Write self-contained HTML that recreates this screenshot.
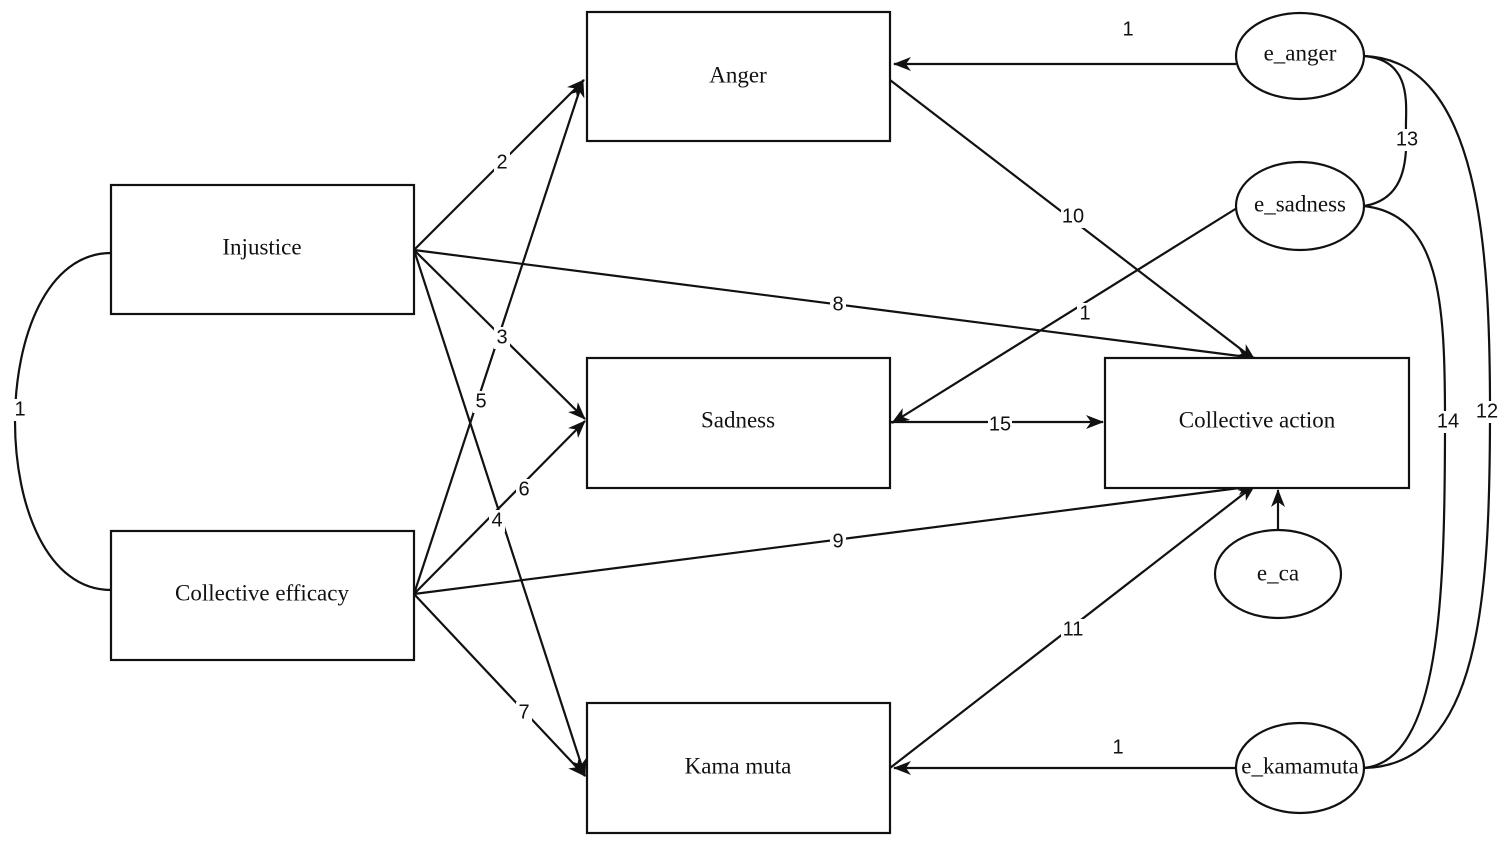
<!DOCTYPE html>
<html><head><style>
body{margin:0;background:#fff;}
svg{display:block;}
.b{fill:#fff;stroke:#111;stroke-width:2.2;}
.l{stroke:#111;stroke-width:2.2;fill:none;}
.t{font-family:"Liberation Serif",serif;font-size:23px;fill:#111;text-anchor:middle;dominant-baseline:middle;}
.n{font-family:"Liberation Sans",sans-serif;font-size:20px;fill:#111;text-anchor:middle;dominant-baseline:middle;}
.bg{fill:#fff;}
</style></head><body>
<svg width="1512" height="847" viewBox="0 0 1512 847">
<defs>
<marker id="a" viewBox="0 0 18 14" refX="17" refY="7" markerWidth="18" markerHeight="14" markerUnits="userSpaceOnUse" orient="auto">
<path d="M0,0 L18,7 L0,14 L5,7 Z" fill="#111"/>
</marker>
</defs>
<path class="l" d="M111,253 C-17,253 -17,590 111,590"/>
<path class="l" d="M1364,56 C1415,60 1405,110 1406,130 C1408,170 1400,200 1364,206"/>
<path class="l" d="M1364,206 C1440,215 1445,300 1445,420 C1445,600 1440,760 1364,768"/>
<path class="l" d="M1364,56 C1480,60 1490,250 1490,410 C1490,600 1480,765 1364,768"/>
<g class="l">
<line x1="414" y1="250" x2="584" y2="80" marker-end="url(#a)"/>
<line x1="414" y1="250" x2="585" y2="419" marker-end="url(#a)"/>
<line x1="414" y1="250" x2="585" y2="776" marker-end="url(#a)"/>
<line x1="414" y1="250" x2="1255" y2="358" marker-end="url(#a)"/>
<line x1="414" y1="594" x2="583" y2="80" marker-end="url(#a)"/>
<line x1="414" y1="594" x2="585" y2="421" marker-end="url(#a)"/>
<line x1="414" y1="594" x2="1255" y2="486" marker-end="url(#a)"/>
<line x1="414" y1="594" x2="585" y2="776" marker-end="url(#a)"/>
<line x1="890" y1="80" x2="1255" y2="360" marker-end="url(#a)"/>
<line x1="1237" y1="208" x2="892" y2="423" marker-end="url(#a)"/>
<line x1="890" y1="422" x2="1103" y2="422" marker-end="url(#a)"/>
<line x1="890" y1="768" x2="1255" y2="485" marker-end="url(#a)"/>
<line x1="1278" y1="530" x2="1278" y2="490" marker-end="url(#a)"/>
<line x1="1236" y1="64" x2="894" y2="64" marker-end="url(#a)"/>
<line x1="1236" y1="768" x2="894" y2="768" marker-end="url(#a)"/>
</g>
<rect class="b" x="587" y="12" width="303" height="129"/>
<rect class="b" x="111" y="185" width="303" height="129"/>
<rect class="b" x="587" y="358" width="303" height="130"/>
<rect class="b" x="1105" y="358" width="304" height="130"/>
<rect class="b" x="111" y="531" width="303" height="129"/>
<rect class="b" x="587" y="703" width="303" height="130"/>
<text class="t" x="738" y="77">Anger</text>
<text class="t" x="262" y="249">Injustice</text>
<text class="t" x="738" y="422">Sadness</text>
<text class="t" x="1257" y="422">Collective action</text>
<text class="t" x="262" y="595">Collective efficacy</text>
<text class="t" x="738" y="768">Kama muta</text>
<ellipse class="b" cx="1300" cy="56" rx="64" ry="43"/>
<ellipse class="b" cx="1300" cy="206" rx="64" ry="44"/>
<ellipse class="b" cx="1278" cy="574" rx="63" ry="44"/>
<ellipse class="b" cx="1300" cy="768" rx="64" ry="45"/>
<text class="t" x="1300" y="55">e_anger</text>
<text class="t" x="1300" y="206">e_sadness</text>
<text class="t" x="1278" y="575">e_ca</text>
<text class="t" x="1300" y="768">e_kamamuta</text>
<g>
<rect class="bg" x="494" y="152" width="16" height="22"/><text class="n" x="502" y="163">2</text>
<rect class="bg" x="494" y="327" width="16" height="22"/><text class="n" x="502" y="338">3</text>
<rect class="bg" x="489" y="510" width="16" height="22"/><text class="n" x="497" y="521">4</text>
<rect class="bg" x="473" y="391" width="16" height="22"/><text class="n" x="481" y="402">5</text>
<rect class="bg" x="516" y="479" width="16" height="22"/><text class="n" x="524" y="490">6</text>
<rect class="bg" x="516" y="702" width="16" height="22"/><text class="n" x="524" y="713">7</text>
<rect class="bg" x="830" y="294" width="16" height="22"/><text class="n" x="838" y="305">8</text>
<rect class="bg" x="830" y="531" width="16" height="22"/><text class="n" x="838" y="542">9</text>
<rect class="bg" x="1061" y="206" width="24" height="22"/><text class="n" x="1073" y="217">10</text>
<rect class="bg" x="1061" y="619" width="24" height="22"/><text class="n" x="1073" y="630">11</text>
<rect class="bg" x="988" y="414" width="24" height="22"/><text class="n" x="1000" y="425">15</text>
<rect class="bg" x="1077" y="303" width="16" height="22"/><text class="n" x="1085" y="314">1</text>
<text class="n" x="1128" y="30">1</text>
<text class="n" x="1118" y="748">1</text>
<rect class="bg" x="12" y="399" width="16" height="22"/><text class="n" x="20" y="410">1</text>
<rect class="bg" x="1395" y="129" width="24" height="22"/><text class="n" x="1407" y="140">13</text>
<rect class="bg" x="1436" y="411" width="24" height="22"/><text class="n" x="1448" y="422">14</text>
<rect class="bg" x="1475" y="401" width="24" height="22"/><text class="n" x="1487" y="412">12</text>
</g>
</svg>
</body></html>
